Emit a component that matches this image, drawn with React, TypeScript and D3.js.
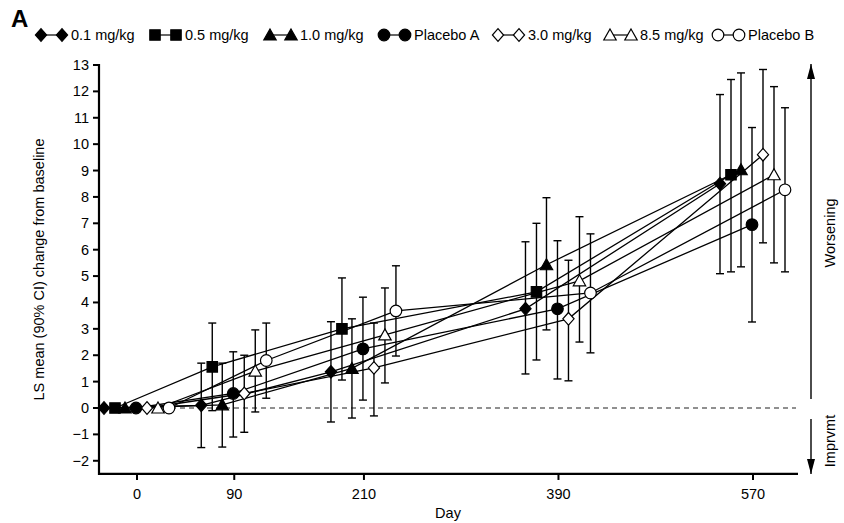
import React from "react";
import * as d3 from "d3";

const days = [0, 90, 210, 390, 570];
const xTicks = [0, 90, 210, 390, 570];
const yTicks = [-2, -1, 0, 1, 2, 3, 4, 5, 6, 7, 8, 9, 10, 11, 12, 13];

const seriesNames = ["0.1 mg/kg", "0.5 mg/kg", "1.0 mg/kg", "Placebo A", "3.0 mg/kg", "8.5 mg/kg", "Placebo B"];
const seriesShapes = ["diamond", "square", "triangle", "circle", "diamond", "triangle", "circle"];
const seriesFilled = [true, true, true, true, false, false, false];

const mean01 = [0, 0.1, 1.37, 3.76, 8.5];
const low01 = [0, -1.5, -0.53, 1.29, 5.09];
const up01 = [0, 1.7, 3.27, 6.3, 11.88];

const mean05 = [0, 1.56, 3.0, 4.4, 8.84];
const low05 = [0, -0.1, 1.06, 1.82, 5.16];
const up05 = [0, 3.22, 4.93, 7.0, 12.45];

const mean10 = [0, 0.12, 1.5, 5.43, 9.03];
const low10 = [0, -1.48, -0.38, 2.96, 5.35];
const up10 = [0, 1.7, 3.38, 7.97, 12.7];

const meanPA = [0, 0.55, 2.24, 3.76, 6.95];
const lowPA = [0, -1.1, 0.3, 1.1, 3.26];
const upPA = [0, 2.13, 4.2, 6.34, 10.63];

const mean30 = [0, 0.55, 1.52, 3.38, 9.6];
const low30 = [0, -0.92, -0.3, 1.03, 6.26];
const up30 = [0, 2.0, 3.22, 5.6, 12.83];

const mean85 = [0, 1.4, 2.77, 4.82, 8.84];
const low85 = [0, -0.15, 0.95, 2.5, 5.5];
const up85 = [0, 2.96, 4.55, 7.25, 12.18];

const meanPB = [0, 1.8, 3.68, 4.36, 8.27];
const lowPB = [0, 0.37, 1.97, 2.09, 5.16];
const upPB = [0, 3.22, 5.39, 6.6, 11.38];

const means = [mean01, mean05, mean10, meanPA, mean30, mean85, meanPB];
const lows = [low01, low05, low10, lowPA, low30, low85, lowPB];
const ups = [up01, up05, up10, upPA, up30, up85, upPB];

const dodge = [-33, -22, -12, -1, 10, 21, 32];
const legendX = [35, 149, 264, 378, 492, 604, 712];

const FONT = "'Liberation Sans', Arial, Helvetica, sans-serif";

function markerPath(shape: string): string {
  if (shape === "diamond") return "M0,-6.3L5.6,0L0,6.3L-5.6,0Z";
  if (shape === "square") return "M-5.2,-5.2H5.2V5.2H-5.2Z";
  if (shape === "triangle") return "M0,-6L6.2,5H-6.2Z";
  const p = d3.path();
  p.arc(0, 0, 5.8, 0, Math.PI * 2);
  p.closePath();
  return p.toString();
}

function Marker({ x, y, shape, filled }: { x: number; y: number; shape: string; filled: boolean }) {
  return (
    <path
      d={markerPath(shape)}
      transform={`translate(${x},${y})`}
      fill={filled ? "#000" : "#fff"}
      stroke="#000"
      strokeWidth={1.2}
    />
  );
}

export default function App() {
  const W = 844;
  const H = 523;
  const x = d3.scaleLinear().domain([0, 570]).range([137, 753]);
  const y = d3.scaleLinear().domain([0, 13]).range([408, 65]);
  const axisLeft = 99;
  const axisRight = 798;
  const axisBottom = y(-2.5);
  const line = d3.line<[number, number]>().x((d) => d[0]).y((d) => d[1]);

  return (
    <svg width={W} height={H} style={{ position: "absolute", left: 0, top: 0, background: "#fff" }} fontFamily={FONT}>
      <rect width={W} height={H} fill="#fff" />
      <text x={11} y={27} fontSize={24} fontWeight="bold">A</text>

      {/* legend */}
      {seriesNames.map((name, i) => {
        const lx = legendX[i];
        const ly = 35;
        return (
          <g key={name}>
            <line x1={lx + 6} x2={lx + 27} y1={ly} y2={ly} stroke="#000" strokeWidth={1.2} />
            <Marker x={lx + 6} y={ly} shape={seriesShapes[i]} filled={seriesFilled[i]} />
            <Marker x={lx + 27} y={ly} shape={seriesShapes[i]} filled={seriesFilled[i]} />
            <text x={lx + 36} y={ly + 5} fontSize={14.5}>{name}</text>
          </g>
        );
      })}

      {/* zero reference line */}
      <line x1={axisLeft} x2={axisRight - 2} y1={y(0)} y2={y(0)} stroke="#222" strokeWidth={1.2} strokeDasharray="5,4" />

      {/* error bars */}
      {means.map((m, i) =>
        days.map((d, j) => {
          if (j === 0) return null;
          const cx = x(d) + dodge[i];
          const y1 = y(lows[i][j]);
          const y2 = y(ups[i][j]);
          return (
            <g key={`e${i}-${j}`} stroke="#000" strokeWidth={1.4}>
              <line x1={cx} x2={cx} y1={y1} y2={y2} />
              <line x1={cx - 4} x2={cx + 4} y1={y1} y2={y1} />
              <line x1={cx - 4} x2={cx + 4} y1={y2} y2={y2} />
            </g>
          );
        })
      )}

      {/* series lines */}
      {means.map((m, i) => (
        <path
          key={`l${i}`}
          d={line(days.map((d, j) => [x(d) + dodge[i], y(m[j])]) as [number, number][]) || ""}
          fill="none"
          stroke="#000"
          strokeWidth={1.3}
        />
      ))}

      {/* markers */}
      {means.map((m, i) =>
        days.map((d, j) => (
          <Marker key={`m${i}-${j}`} x={x(d) + dodge[i]} y={y(m[j])} shape={seriesShapes[i]} filled={seriesFilled[i]} />
        ))
      )}

      {/* axes */}
      <line x1={axisLeft} x2={axisLeft} y1={y(13) - 1} y2={axisBottom + 1} stroke="#000" strokeWidth={2.2} />
      <line x1={axisLeft - 1} x2={axisRight} y1={axisBottom} y2={axisBottom} stroke="#000" strokeWidth={2.2} />
      {yTicks.map((t) => (
        <g key={`yt${t}`}>
          <line x1={axisLeft - 6} x2={axisLeft} y1={y(t)} y2={y(t)} stroke="#000" strokeWidth={2} />
          <text x={axisLeft - 10} y={y(t) + 5} fontSize={14.5} textAnchor="end">
            {t < 0 ? `\u2212${Math.abs(t)}` : t}
          </text>
        </g>
      ))}
      {xTicks.map((t) => (
        <g key={`xt${t}`}>
          <line x1={x(t)} x2={x(t)} y1={axisBottom} y2={axisBottom + 6} stroke="#000" strokeWidth={2} />
          <text x={x(t)} y={axisBottom + 25} fontSize={14.5} textAnchor="middle">{t}</text>
        </g>
      ))}
      <text x={448} y={518} fontSize={14.5} textAnchor="middle">Day</text>
      <text transform={`translate(44,${(y(13) + axisBottom) / 2}) rotate(-90)`} fontSize={14.5} textAnchor="middle">
        LS mean (90% CI) change from baseline
      </text>

      {/* right annotation arrows */}
      <defs>
        <marker id="ah" viewBox="0 0 10 10" refX="10" refY="5" markerWidth="15" markerHeight="8" markerUnits="userSpaceOnUse" orient="auto" preserveAspectRatio="none">
          <path d="M0,0L10,5L0,10Z" fill="#000" />
        </marker>
      </defs>
      <line x1={811} x2={811} y1={399} y2={64} stroke="#000" strokeWidth={1.4} markerEnd="url(#ah)" />
      <line x1={811} x2={811} y1={419} y2={474} stroke="#000" strokeWidth={1.4} markerEnd="url(#ah)" />
      <text transform="translate(835,233) rotate(-90)" fontSize={14.5} textAnchor="middle">Worsening</text>
      <text transform="translate(835,441) rotate(-90)" fontSize={14.5} textAnchor="middle">Imprvmt</text>
    </svg>
  );
}
